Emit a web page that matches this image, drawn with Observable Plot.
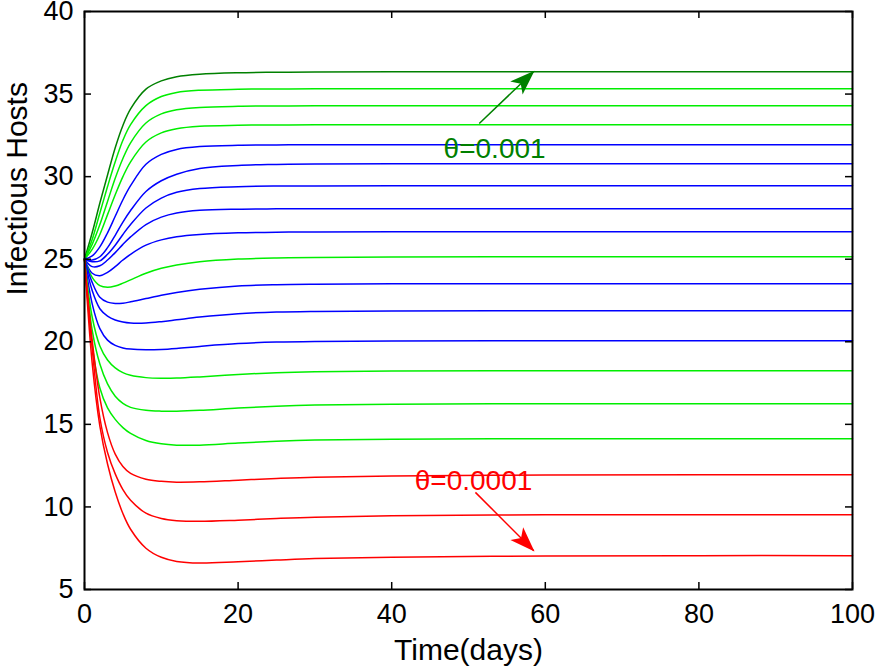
<!DOCTYPE html>
<html><head><meta charset="utf-8">
<script src="https://cdn.jsdelivr.net/npm/d3@7"></script>
<script src="https://cdn.jsdelivr.net/npm/@observablehq/plot@0.6"></script>
<style>body{margin:0;background:#fff}</style>
</head><body><div id="chart"></div>
<script>
// time samples (days)
const times = [0, 1, 2, 3, 4, 5, 6, 8, 10, 12, 15, 20, 25, 30, 40, 60, 80, 100];
// series, top to bottom
const c01 = [25, 26.6, 28.4, 30.1, 31.75, 33.1, 34.1, 35.3, 35.8, 36.05, 36.2, 36.29, 36.32, 36.34, 36.35, 36.35, 36.35, 36.35];
const c02 = [25, 26.2, 27.8, 29.4, 30.9, 32.2, 33.15, 34.3, 34.85, 35.1, 35.23, 35.29, 35.31, 35.32, 35.32, 35.32, 35.32, 35.32];
const c03 = [25, 25.9, 27.1, 28.5, 29.9, 31.1, 32.05, 33.25, 33.8, 34.05, 34.19, 34.26, 34.28, 34.29, 34.29, 34.29, 34.29, 34.29];
const c04 = [25, 25.6, 26.5, 27.7, 28.9, 30.0, 30.9, 32.1, 32.65, 32.9, 33.05, 33.11, 33.13, 33.14, 33.14, 33.14, 33.14, 33.14];
const c05 = [25, 25.2, 25.75, 26.6, 27.6, 28.6, 29.45, 30.75, 31.35, 31.65, 31.82, 31.9, 31.92, 31.93, 31.93, 31.93, 31.93, 31.93];
const c06 = [25, 24.95, 25.15, 25.7, 26.45, 27.25, 27.95, 29.1, 29.75, 30.15, 30.5, 30.68, 30.74, 30.77, 30.78, 30.78, 30.78, 30.78];
const c07 = [25, 24.85, 24.9, 25.3, 25.85, 26.5, 27.1, 28.1, 28.7, 29.05, 29.28, 29.39, 29.43, 29.44, 29.45, 29.45, 29.45, 29.45];
const c08 = [25, 24.55, 24.6, 24.95, 25.4, 25.9, 26.35, 27.1, 27.55, 27.8, 27.96, 28.03, 28.05, 28.06, 28.06, 28.06, 28.06, 28.06];
const c09 = [25, 24.15, 24.0, 24.2, 24.55, 24.95, 25.3, 25.85, 26.17, 26.36, 26.5, 26.6, 26.64, 26.65, 26.66, 26.66, 26.66, 26.66];
const c10 = [25, 23.9, 23.4, 23.3, 23.38, 23.55, 23.75, 24.15, 24.45, 24.65, 24.85, 25.01, 25.08, 25.11, 25.14, 25.15, 25.15, 25.15];
const c11 = [25, 23.6, 22.7, 22.4, 22.32, 22.34, 22.42, 22.62, 22.82, 22.99, 23.18, 23.38, 23.46, 23.49, 23.51, 23.52, 23.52, 23.52];
const c12 = [25, 23.1, 22.0, 21.55, 21.32, 21.2, 21.14, 21.14, 21.22, 21.33, 21.5, 21.7, 21.8, 21.84, 21.87, 21.88, 21.88, 21.88];
const c13 = [25, 22.3, 20.8, 20.1, 19.78, 19.63, 19.56, 19.52, 19.54, 19.6, 19.72, 19.89, 19.98, 20.02, 20.05, 20.06, 20.06, 20.06];
const c14 = [25, 21.5, 19.75, 18.9, 18.42, 18.13, 17.97, 17.83, 17.79, 17.8, 17.87, 18.02, 18.13, 18.19, 18.23, 18.25, 18.25, 18.25];
const c15 = [25, 20.7, 18.65, 17.45, 16.7, 16.27, 16.03, 15.85, 15.8, 15.8, 15.85, 15.99, 16.1, 16.17, 16.22, 16.25, 16.25, 16.25];
const c16 = [25, 19.8, 17.2, 16.0, 15.3, 14.8, 14.45, 14.02, 13.82, 13.74, 13.74, 13.87, 13.98, 14.05, 14.1, 14.13, 14.13, 14.13];
const c17 = [25, 20.1, 16.6, 14.5, 13.2, 12.45, 12.03, 11.68, 11.55, 11.5, 11.52, 11.62, 11.72, 11.8, 11.88, 11.93, 11.95, 11.95];
const c18 = [25, 19.6, 15.4, 13.3, 12.0, 11.05, 10.4, 9.62, 9.3, 9.17, 9.13, 9.2, 9.3, 9.38, 9.46, 9.52, 9.53, 9.53];
const c19 = [25, 18.7, 14.9, 12.6, 10.9, 9.6, 8.65, 7.5, 6.95, 6.7, 6.6, 6.68, 6.78, 6.87, 6.96, 7.03, 7.05, 7.05];
const seriesValues = [c01, c02, c03, c04, c05, c06, c07, c08, c09, c10, c11, c12, c13, c14, c15, c16, c17, c18, c19];
const DG = "#008000", G = "#00ee00", B = "#0000ff", R = "#ff0000";
const seriesColors = [DG, G, G, G, B, B, B, B, B, G, B, B, B, G, G, G, R, R, R];

const xTicks = [0, 20, 40, 60, 80, 100];
const yTicks = [5, 10, 15, 20, 25, 30, 35, 40];

// annotations
const labelText = ["θ=0.001", "θ=0.0001"];
const labelX = [53.4, 50.65];
const labelY = [31.69, 11.59];
const labelColor = [DG, R];
const arrowX1 = [51.4, 50.9], arrowY1 = [33.22, 10.88];
const arrowX2 = [58.5, 58.5], arrowY2 = [36.37, 7.35];

const lineData = seriesValues.flatMap((vals, i) =>
  vals.map((v, j) => ({t: times[j], v, s: i, c: seriesColors[i]})));
const labels = labelText.map((text, i) => ({text, x: labelX[i], y: labelY[i], c: labelColor[i]}));
const arrows = arrowX1.map((x1, i) => ({x1, y1: arrowY1[i], x2: arrowX2[i], y2: arrowY2[i], c: labelColor[i]}));

const chart = Plot.plot({
  width: 877, height: 668,
  marginLeft: 84, marginRight: 25, marginTop: 11, marginBottom: 79,
  style: {fontFamily: "'Liberation Sans', Arial, sans-serif", fontSize: "27px", background: "white", color: "black"},
  x: {domain: [0, 100]},
  y: {domain: [5, 40]},
  color: {type: "identity"},
  marks: [
    Plot.line(lineData, {x: "t", y: "v", z: "s", stroke: "c", strokeWidth: 1.5, curve: "catmull-rom"}),
    Plot.link(arrows, {x1: "x1", y1: "y1", x2: "x2", y2: "y2", stroke: "c", strokeWidth: 1.5}),
    Plot.text(labels, {x: "x", y: "y", text: "text", fill: "c", fontSize: 28, textAnchor: "middle", lineAnchor: "middle"}),
    Plot.tickX(xTicks, {x: d => d, insetTop: 571, stroke: "black", strokeWidth: 1.5}),
    Plot.tickX(xTicks, {x: d => d, insetBottom: 571, stroke: "black", strokeWidth: 1.5}),
    Plot.tickY(yTicks, {y: d => d, insetRight: 761, stroke: "black", strokeWidth: 1.5}),
    Plot.tickY(yTicks, {y: d => d, insetLeft: 761, stroke: "black", strokeWidth: 1.5}),
    Plot.frame({stroke: "black", strokeWidth: 2}),
    Plot.axisX({ticks: xTicks, tickSize: 0, tickPadding: 14, fontSize: 27, label: null, tickFormat: d => String(d)}),
    Plot.axisY({ticks: yTicks, tickSize: 0, tickPadding: 11, fontSize: 27, label: null, tickFormat: d => String(d)}),
    Plot.text(["Infectious Hosts"], {text: d => d, frameAnchor: "left", dx: -67, dy: -5, rotate: -90, fontSize: 30, fill: "black"}),
    Plot.text(["Time(days)"], {text: d => d, frameAnchor: "bottom", dy: 61, fontSize: 30, fill: "black", lineAnchor: "middle"})
  ]
});
document.getElementById("chart").appendChild(chart);

// filled arrowheads on the link paths
const svg = d3.select(chart.tagName.toLowerCase() === "svg" ? chart : chart.querySelector("svg"));
const defs = svg.append("defs");
svg.selectAll("g[aria-label='link'] path").each(function(d, i) {
  const p = d3.select(this);
  const col = p.attr("stroke") || d3.select(this.parentNode).attr("stroke");
  const id = "ahead" + i;
  defs.append("marker")
    .attr("id", id).attr("markerUnits", "userSpaceOnUse")
    .attr("viewBox", "-26 -10 28 20").attr("markerWidth", 28).attr("markerHeight", 20)
    .attr("refX", 0).attr("refY", 0).attr("orient", "auto")
    .append("path").attr("d", "M1,0L-24,-9L-18,0L-24,9Z").attr("fill", col).attr("stroke", "none");
  p.attr("marker-end", `url(#${id})`);
});
</script>
</body></html>
